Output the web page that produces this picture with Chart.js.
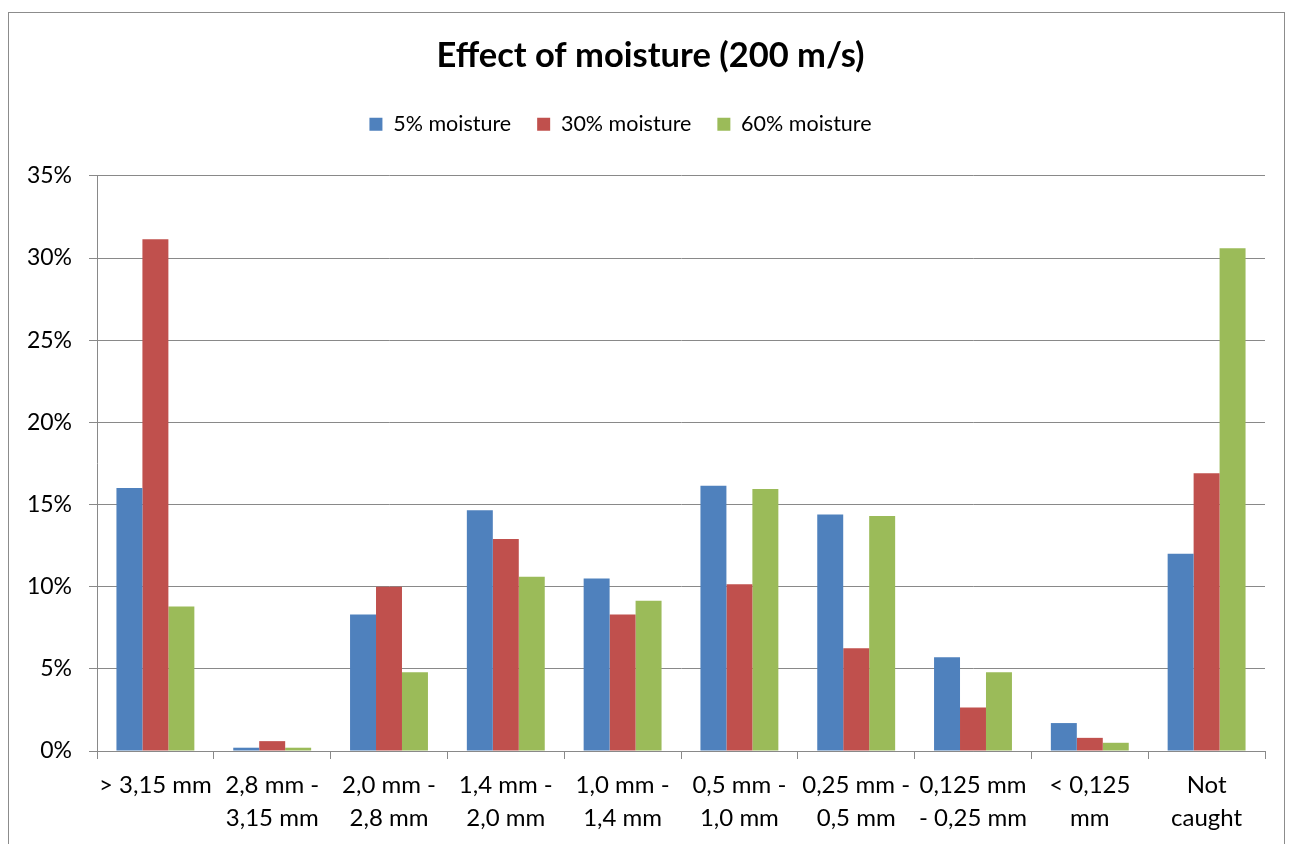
<!DOCTYPE html>
<html>
<head>
<meta charset="utf-8">
<script src="https://cdn.jsdelivr.net/npm/chart.js@4/dist/chart.umd.min.js"></script>
<style>
  html, body { margin: 0; padding: 0; background: #fff; overflow: hidden; }
  #wrap { position: relative; width: 1293px; height: 844px; }
</style>
</head>
<body>
<div id="wrap"><canvas id="chart"></canvas></div>
<script>

// size classes on the x axis (wrapped like the original labels)
const sizeClasses = [
  ['> 3,15 mm'],
  ['2,8 mm -', '3,15 mm'],
  ['2,0 mm -', '2,8 mm'],
  ['1,4 mm -', '2,0 mm'],
  ['1,0 mm -', '1,4 mm'],
  ['0,5 mm -', '1,0 mm'],
  ['0,25 mm -', '0,5 mm'],
  ['0,125 mm', '- 0,25 mm'],
  ['< 0,125', 'mm'],
  ['Not', 'caught'],
];

const seriesNames = ['5% moisture', '30% moisture', '60% moisture'];

// values in percent
const moisture5 = [16.0, 0.2, 8.3, 14.65, 10.5, 16.15, 14.4, 5.7, 1.7, 12.0];
const moisture30 = [31.15, 0.6, 10.0, 12.9, 8.3, 10.15, 6.25, 2.65, 0.8, 16.9];
const moisture60 = [8.8, 0.2, 4.8, 10.6, 9.15, 15.95, 14.3, 4.8, 0.5, 30.6];

const yTicks = [0, 5, 10, 15, 20, 25, 30, 35];

const colors = ['#4F81BD', '#C0504D', '#9BBB59'];
const gridColor = '#898989';
const font = 'Lato';

// outer frame of the chart object
const framePlugin = {
  id: 'frame',
  beforeDraw(chart) {
    const ctx = chart.ctx;
    ctx.save();
    ctx.fillStyle = '#fff';
    ctx.fillRect(0, 0, chart.width, chart.height);
    ctx.strokeStyle = '#8c8c8c';
    ctx.lineWidth = 1;
    ctx.strokeRect(8.5, 12.5, 1276, 900);
    ctx.restore();
  }
};

// leave more room under the legend, and nudge title / legend sideways like the original
const placePlugin = {
  id: 'place',
  afterInit(chart) {
    const legend = chart.legend;
    const fit = legend.fit;
    legend.fit = function () {
      fit.call(this);
      this.height += 31;
    };
  },
  afterLayout(chart) {
    chart.titleBlock.left += 18;
    chart.titleBlock.right += 18;
    chart.legend.left -= 12;
    chart.legend.right -= 12;
  }
};

const makeDataset = (label, data, i) => ({
  label: label,
  data: data,
  backgroundColor: colors[i],
  borderWidth: 0,
  categoryPercentage: 0.667,
  barPercentage: 1.0,
});

new Chart(document.getElementById('chart'), {
  type: 'bar',
  data: {
    labels: sizeClasses,
    datasets: [
      makeDataset(seriesNames[0], moisture5, 0),
      makeDataset(seriesNames[1], moisture30, 1),
      makeDataset(seriesNames[2], moisture60, 2),
    ],
  },
  options: {
    responsive: true,
    maintainAspectRatio: false,
    animation: false,
    layout: { padding: { left: 0, right: 28, top: 35, bottom: 0 } },
    plugins: {
      title: {
        display: true,
        text: 'Effect of moisture (200 m/s)',
        color: '#000',
        font: { family: font, size: 34.5, weight: 'bold' },
        padding: { top: 0, bottom: 11 },
      },
      legend: {
        display: true,
        labels: {
          color: '#000',
          font: { family: font, size: 21.5 },
          boxWidth: 13,
          boxHeight: 13,
          padding: 26,
        },
      },
      tooltip: { enabled: false },
    },
    scales: {
      x: {
        afterFit(scale) { scale.height = 93; },
        grid: {
          display: true,
          drawOnChartArea: false,
          drawTicks: true,
          tickLength: 8,
          color: gridColor,
          offset: true,
        },
        border: { display: true, color: gridColor, width: 1 },
        ticks: {
          color: '#000',
          font: { family: font, size: 24, lineHeight: 1.4 },
          padding: 9,
          maxRotation: 0,
          autoSkip: false,
        },
      },
      y: {
        min: 0,
        max: 35,
        afterFit(scale) { scale.width = 97; },
        afterBuildTicks(scale) { scale.ticks = yTicks.map(v => ({ value: v })); },
        grid: {
          color: gridColor,
          lineWidth: 1,
          tickLength: 8,
        },
        border: { display: true, color: gridColor, width: 1 },
        ticks: {
          color: '#000',
          font: { family: font, size: 23 },
          padding: 17,
          callback: (v) => v + '%',
        },
      },
    },
  },
  plugins: [framePlugin, placePlugin],
});
</script>
</body>
</html>
